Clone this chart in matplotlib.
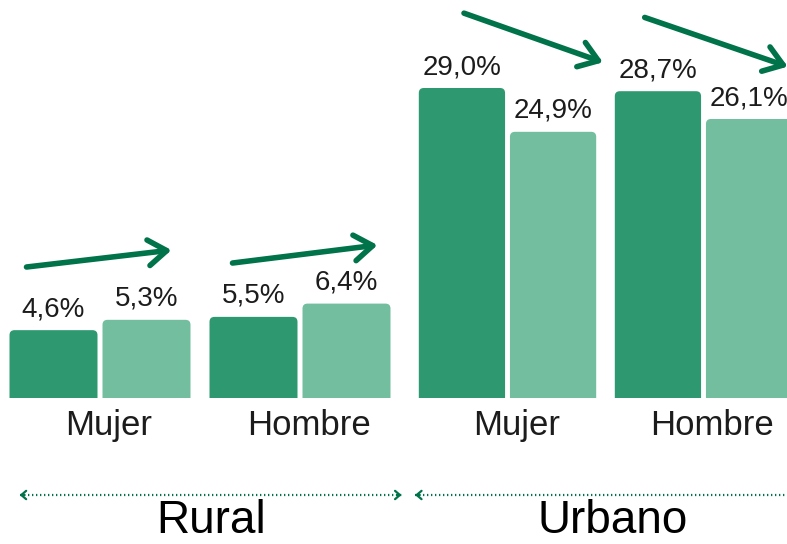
import matplotlib
matplotlib.use("Agg")
import matplotlib.pyplot as plt
from matplotlib.patches import FancyBboxPatch, FancyArrowPatch
from matplotlib.lines import Line2D

plt.rcParams['font.family'] = ['Liberation Sans', 'DejaVu Sans']

# data
areas = ['Rural', 'Urbano']
sexes = ['Mujer', 'Hombre']
rural_before = [4.6, 5.5]
rural_after = [5.3, 6.4]
urban_before = [29.0, 28.7]
urban_after = [24.9, 26.1]
rural_labels_before = ['4,6%', '5,5%']
rural_labels_after = ['5,3%', '6,4%']
urban_labels_before = ['29,0%', '28,7%']
urban_labels_after = ['24,9%', '26,1%']

dark = '#2E9970'
light = '#72BE9E'
arrow_col = '#00734A'
text_col = '#1c1c1c'

W, H = 787, 544
fig = plt.figure(figsize=(W / 100, H / 100), dpi=100)

base = (H - 398) / H
ax_h = 1 - base
ax_r = fig.add_axes([0 / W, base, 400 / W, ax_h])
ax_u = fig.add_axes([409.5 / W, base, 392 / W, ax_h])
ax_r.set_ylim(0, 398 / 14.75)
ax_u.set_ylim(0, 398 / 10.69)

bw = 0.44
off = 0.2325


def rounded_bars(ax, bars, rad_px=5):
    fig.canvas.draw()
    bb = ax.get_window_extent()
    x0, x1 = ax.get_xlim()
    y0, y1 = ax.get_ylim()
    xu = (x1 - x0) / bb.width
    yu = (y1 - y0) / bb.height
    for b in bars:
        x, w, h = b.get_x(), b.get_width(), b.get_height()
        p = FancyBboxPatch((x, -2), w, h + 2,
                           boxstyle="round,pad=0,rounding_size=%f" % (rad_px * xu),
                           mutation_aspect=yu / xu,
                           fc=b.get_facecolor(), ec='none')
        ax.add_patch(p)
        b.remove()


def draw_group(ax, before, after, lab_b, lab_a):
    x = list(range(len(sexes)))
    xb = [i - off for i in x]
    xa = [i + off for i in x]
    b1 = ax.bar(xb, before, bw, color=dark)
    b2 = ax.bar(xa, after, bw, color=light)
    ax.set_xlim(-0.5, 1.5)
    for xs, vs, ls in ((xb, before, lab_b), (xa, after, lab_a)):
        for xx, v, l in zip(xs, vs, ls):
            ax.annotate(l, (xx, v), xytext=(0, 10), textcoords='offset points',
                        ha='center', va='baseline', fontsize=20, color=text_col)
    ax.set_xticks([i + 0.045 for i in x])
    ax.set_xticklabels(sexes, fontsize=25, color=text_col)
    ax.tick_params(axis='x', length=0, pad=8)
    ax.set_yticks([])
    for s in ax.spines.values():
        s.set_visible(False)
    ax.patch.set_alpha(0)
    return list(b1) + list(b2)


bars_r = draw_group(ax_r, rural_before, rural_after, rural_labels_before, rural_labels_after)
bars_u = draw_group(ax_u, urban_before, urban_after, urban_labels_before, urban_labels_after)
rounded_bars(ax_r, bars_r)
rounded_bars(ax_u, bars_u)

# trend arrows (layout positions)
arrows_r = [((-0.3675, 8.88), (0.3575, 10.03)), ((0.6625, 9.15), (1.3875, 10.37))]
arrows_u = [((-0.222, 36.0), (0.487, 31.4)), ((0.70, 35.6), (1.43, 31.0))]
for ax, arrs in ((ax_r, arrows_r), (ax_u, arrows_u)):
    for (p0, p1) in arrs:
        a = FancyArrowPatch(p0, p1, arrowstyle='->,head_length=0.6,head_width=0.42',
                            mutation_scale=22, lw=4, color=arrow_col,
                            capstyle='round', joinstyle='round', clip_on=False,
                            shrinkA=0, shrinkB=0)
        ax.add_patch(a)

# bottom brackets with area names
brackets = [(ax_r, 0.049, 1.004, 0.527), (ax_u, 0.014, 1.024, 0.519)]
yb = (H - 495) / H
for (ax, xa0, xa1, xt), name in zip(brackets, areas):
    tr = matplotlib.transforms.blended_transform_factory(ax.transAxes, fig.transFigure)
    ln = Line2D([xa0, xa1], [yb, yb], transform=tr, color=arrow_col, lw=1.6,
                ls=(0, (0.6, 1.2)), clip_on=False)
    fig.add_artist(ln)
    for xe, xi in ((xa0, xa0 + 0.012), (xa1, xa1 - 0.012)):
        h = FancyArrowPatch((xi, yb), (xe, yb), transform=tr,
                            arrowstyle='->,head_length=0.35,head_width=0.3',
                            mutation_scale=10, lw=1.6, color=arrow_col,
                            shrinkA=0, shrinkB=0)
        fig.add_artist(h)
    fig.text(xt, 0.001, name, transform=tr,
             fontsize=33, color='black', ha='center', va='bottom')

fig.savefig('out.png', dpi=100)
